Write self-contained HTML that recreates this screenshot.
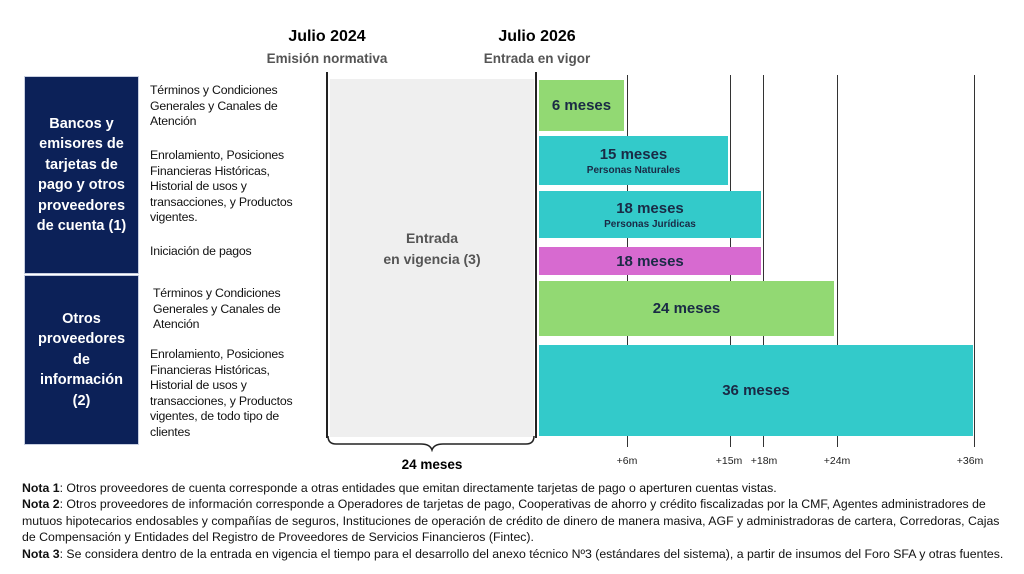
<!DOCTYPE html>
<html><head><meta charset="utf-8"><style>
body{margin:0;width:1024px;height:574px;background:#fff;position:relative;overflow:hidden;font-family:"Liberation Sans",sans-serif}
.a{position:absolute}
.box{background:#0c2158;color:#fff;font-weight:bold;font-size:14.5px;line-height:20.5px;text-align:center;display:flex;align-items:center;justify-content:center;border:1px solid #c8cfe0}
.lab{font-size:12.3px;line-height:15.5px;color:#111;letter-spacing:-0.2px}
.bar{display:flex;flex-direction:column;align-items:center;justify-content:center;color:#1a2a45;font-weight:bold;font-size:15px}
.bar small{font-size:10px;font-weight:bold;margin-top:2px}
.vl{width:1px;background:#333;top:75px;height:372px}
.tk{font-size:10.5px;color:#222;top:455px;transform:translateX(-50%)}
.n{font-size:12.3px;line-height:16.4px;color:#111;left:22px;width:1000px;white-space:nowrap}
</style></head><body>
<div class="a" style="left:262px;top:28px;width:130px;text-align:center;font-weight:bold;font-size:16px">Julio 2024</div>
<div class="a" style="left:247px;top:51px;width:160px;text-align:center;font-weight:bold;font-size:13.5px;color:#555">Emisión normativa</div>
<div class="a" style="left:472px;top:28px;width:130px;text-align:center;font-weight:bold;font-size:16px">Julio 2026</div>
<div class="a" style="left:457px;top:51px;width:160px;text-align:center;font-weight:bold;font-size:13.5px;color:#555">Entrada en vigor</div>

<div class="a box" style="left:24px;top:76px;width:113px;height:196px">Bancos y<br>emisores de<br>tarjetas de<br>pago y otros<br>proveedores<br>de cuenta (1)</div>
<div class="a box" style="left:24px;top:275px;width:113px;height:168px">Otros<br>proveedores<br>de<br>información<br>(2)</div>

<div class="a lab" style="left:150px;top:83px">Términos y Condiciones<br>Generales y Canales de<br>Atención</div>
<div class="a lab" style="left:150px;top:148px">Enrolamiento, Posiciones<br>Financieras Históricas,<br>Historial de usos y<br>transacciones, y Productos<br>vigentes.</div>
<div class="a lab" style="left:150px;top:244px">Iniciación de pagos</div>
<div class="a lab" style="left:153px;top:286px">Términos y Condiciones<br>Generales y Canales de<br>Atención</div>
<div class="a lab" style="left:150px;top:347px">Enrolamiento, Posiciones<br>Financieras Históricas,<br>Historial de usos y<br>transacciones, y Productos<br>vigentes, de todo tipo de<br>clientes</div>

<div class="a" style="left:330px;top:79px;width:204px;height:358px;background:#efefef"></div>
<div class="a" style="left:330px;top:228px;width:204px;text-align:center;font-weight:bold;font-size:14px;line-height:21px;color:#555">Entrada<br>en vigencia (3)</div>
<div class="a" style="left:326px;top:72px;width:2px;height:366px;background:#222"></div>
<div class="a" style="left:535px;top:72px;width:2px;height:366px;background:#222"></div>

<div class="a vl" style="left:627px"></div>
<div class="a vl" style="left:730px"></div>
<div class="a vl" style="left:763px"></div>
<div class="a vl" style="left:837px"></div>
<div class="a vl" style="left:974px"></div>

<div class="a bar" style="left:539px;top:80px;width:85px;height:51px;background:#92d973">6 meses</div>
<div class="a bar" style="left:539px;top:136px;width:189px;height:49px;background:#33caca">15 meses<small>Personas Naturales</small></div>
<div class="a bar" style="left:539px;top:191px;width:222px;height:47px;background:#33caca">18 meses<small>Personas Jurídicas</small></div>
<div class="a bar" style="left:539px;top:247px;width:222px;height:28px;background:#d76ad0">18 meses</div>
<div class="a bar" style="left:539px;top:281px;width:295px;height:55px;background:#92d973">24 meses</div>
<div class="a bar" style="left:539px;top:345px;width:434px;height:91px;background:#33caca">36 meses</div>

<div class="a tk" style="left:627px">+6m</div>
<div class="a tk" style="left:729px">+15m</div>
<div class="a tk" style="left:764px">+18m</div>
<div class="a tk" style="left:837px">+24m</div>
<div class="a tk" style="left:970px">+36m</div>

<svg class="a" style="left:326px;top:436px" width="212" height="16"><path d="M2 0 Q2 8 10 8 L95 8 Q104 8 106 14 Q108 8 117 8 L200 8 Q208 8 208 0" fill="none" stroke="#222" stroke-width="1.5"/></svg>
<div class="a" style="left:330px;top:457px;width:204px;text-align:center;font-weight:bold;font-size:13.5px">24 meses</div>

<div class="a n" style="top:480px"><b>Nota 1</b>: Otros proveedores de cuenta corresponde a otras entidades que emitan directamente tarjetas de pago o aperturen cuentas vistas.<br><b>Nota 2</b>: Otros proveedores de información corresponde a Operadores de tarjetas de pago, Cooperativas de ahorro y crédito fiscalizadas por la CMF, Agentes administradores de<br>mutuos hipotecarios endosables y compañías de seguros, Instituciones de operación de crédito de dinero de manera masiva, AGF y administradoras de cartera, Corredoras, Cajas<br>de Compensación y Entidades del Registro de Proveedores de Servicios Financieros (Fintec).<br><b>Nota 3</b>: Se considera dentro de la entrada en vigencia el tiempo para el desarrollo del anexo técnico Nº3 (estándares del sistema), a partir de insumos del Foro SFA y otras fuentes.</div>
</body></html>
